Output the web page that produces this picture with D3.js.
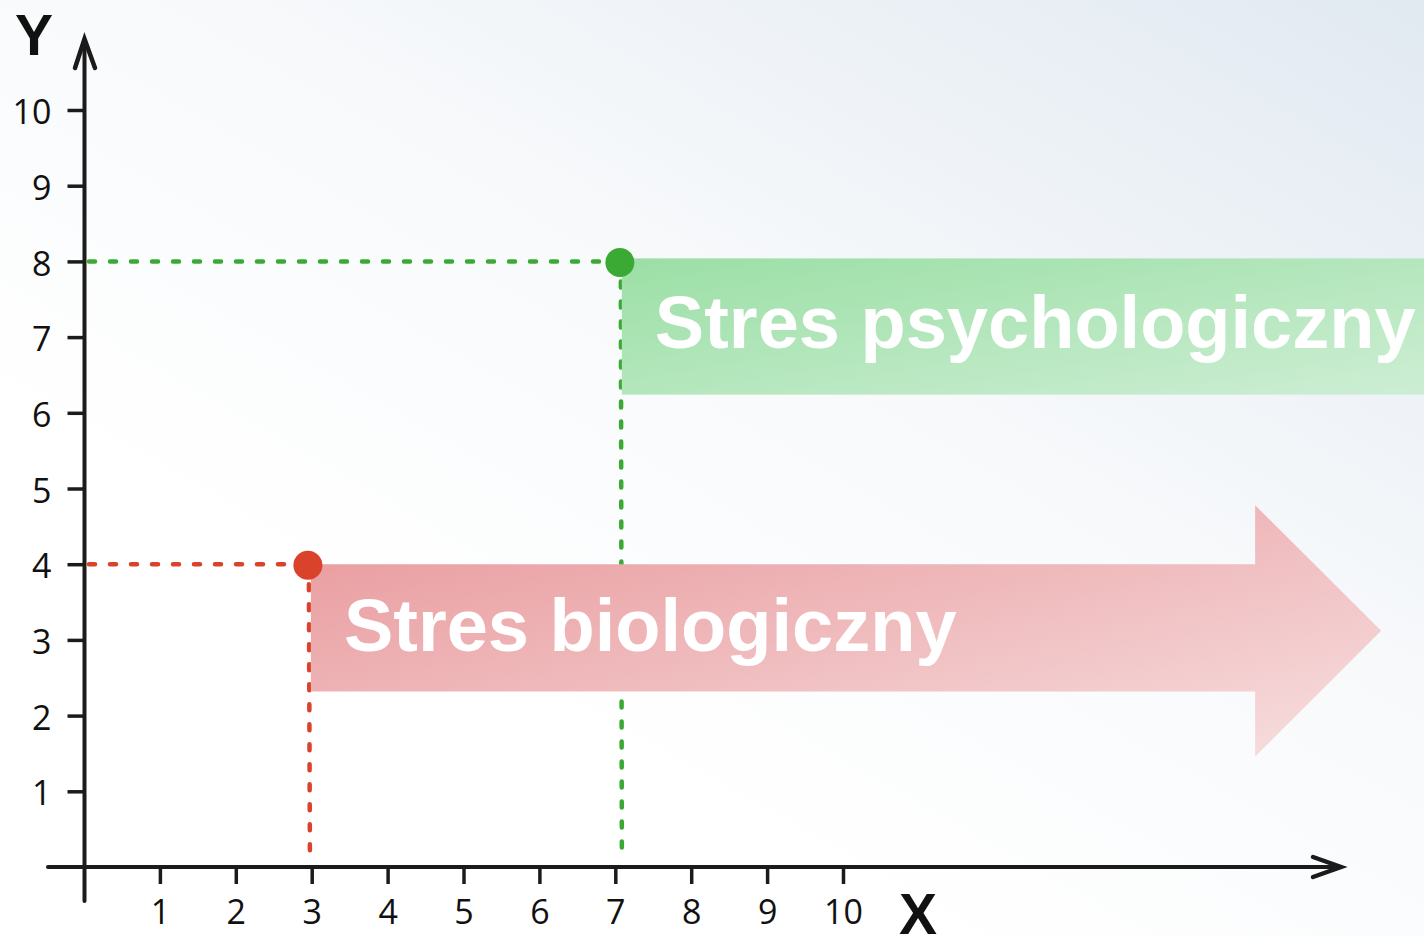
<!DOCTYPE html>
<html>
<head>
<meta charset="utf-8">
<script src="https://cdn.jsdelivr.net/npm/d3@7"></script>
<style>
  html, body { margin: 0; padding: 0; background: #fff; }
  svg { display: block; }
</style>
</head>
<body>
<svg id="chart" width="1424" height="936"></svg>
<script>
// ---- data ----
const xTicks = [1, 2, 3, 4, 5, 6, 7, 8, 9, 10];
const yTicks = [1, 2, 3, 4, 5, 6, 7, 8, 9, 10];
const seriesNames = ["Stres biologiczny", "Stres psychologiczny"];
const pointX = [2.95, 7.06];
const pointY = [4, 8];
// band extents (data units)
const bandBottom = [2.32, 6.24];
const bandEnd = [15.43, 17.7];
const arrowTip = [17.09, null];
const arrowHeadTop = [4.78, null];
const arrowHeadBottom = [1.46, null];
const colors = ["#d9432b", "#3aaa35"];

// ---- setup ----
const W = 1424, H = 936;
const svg = d3.select("#chart");
const x = d3.scaleLinear().domain([0, 10]).range([84, 843]);
const y = d3.scaleLinear().domain([0, 10]).range([867, 110]);

const defs = svg.append("defs");
const bg = defs.append("linearGradient").attr("id", "bg")
  .attr("x1", 1).attr("y1", 0).attr("x2", 0.35).attr("y2", 0.75);
bg.append("stop").attr("offset", 0).attr("stop-color", "#e1e9f1");
bg.append("stop").attr("offset", 0.55).attr("stop-color", "#f7f9fb");
bg.append("stop").attr("offset", 1).attr("stop-color", "#ffffff");

const gRed = defs.append("linearGradient").attr("id", "gRed")
  .attr("x1", 0).attr("y1", 0).attr("x2", 1).attr("y2", 1);
gRed.append("stop").attr("offset", 0).attr("stop-color", "#e8979a");
gRed.append("stop").attr("offset", 1).attr("stop-color", "#f7dfe0");

const gGreen = defs.append("linearGradient").attr("id", "gGreen")
  .attr("x1", 0).attr("y1", 0).attr("x2", 1).attr("y2", 1);
gGreen.append("stop").attr("offset", 0).attr("stop-color", "#9bdfa5");
gGreen.append("stop").attr("offset", 1).attr("stop-color", "#cdeed4");

svg.append("rect").attr("width", W).attr("height", H).attr("fill", "url(#bg)");

// ---- dashed guides (behind the bands) ----
const guides = svg.append("g");
pointX.forEach((px, i) => {
  guides.append("line")
    .attr("x1", x(0) + 5).attr("x2", x(px)).attr("y1", y(pointY[i])).attr("y2", y(pointY[i]))
    .attr("stroke", colors[i]).attr("stroke-width", 4.5).attr("stroke-linecap", "round")
    .attr("stroke-dasharray", "6 15");
  guides.append("line")
    .attr("x1", x(px) + 1).attr("x2", x(px) + 2).attr("y1", y(pointY[i]) + 20).attr("y2", y(0) - 12)
    .attr("stroke", colors[i]).attr("stroke-width", 4.5).attr("stroke-linecap", "round")
    .attr("stroke-dasharray", "6 14");
});

// ---- bands ----
// red arrow
{
  const i = 0;
  const x0 = x(pointX[i]) + 3, yt = y(pointY[i]), yb = y(bandBottom[i]);
  const xe = x(bandEnd[i]), xt = x(arrowTip[i]);
  const ht = y(arrowHeadTop[i]), hb = y(arrowHeadBottom[i]);
  const path = d3.path();
  path.moveTo(x0, yt); path.lineTo(xe, yt); path.lineTo(xe, ht);
  path.lineTo(xt, (ht + hb) / 2); path.lineTo(xe, hb); path.lineTo(xe, yb);
  path.lineTo(x0, yb); path.closePath();
  svg.append("path").attr("d", path.toString()).attr("fill", "url(#gRed)");
}
// green band
{
  const i = 1;
  const x0 = x(pointX[i]) + 2, yt = y(pointY[i]) - 3, yb = y(bandBottom[i]);
  svg.append("rect").attr("x", x0).attr("y", yt)
    .attr("width", x(bandEnd[i]) - x0).attr("height", yb - yt)
    .attr("fill", "url(#gGreen)");
}

// ---- band labels ----
const textOffsets = [36, 35];
seriesNames.forEach((name, i) => {
  svg.append("text")
    .attr("x", x(pointX[i]) + textOffsets[i])
    .attr("y", i === 0 ? 651 : 348)
    .attr("font-family", "'Liberation Sans', Arial, sans-serif")
    .attr("font-weight", "bold").attr("font-size", 74)
    .attr("fill", "#ffffff").text(name);
});

// ---- points ----
svg.append("g").selectAll("circle").data(pointX).join("circle")
  .attr("cx", d => x(d)).attr("cy", (d, i) => y(pointY[i]) + 1)
  .attr("r", 14.5).attr("fill", (d, i) => colors[i]);

// ---- axes ----
const axisColor = "#1b1b1b";
const ax = svg.append("g");
const ax0 = x(0) + 0.5;
// x axis line + arrow
ax.append("line").attr("x1", 48).attr("x2", 1340).attr("y1", y(0)).attr("y2", y(0))
  .attr("stroke", axisColor).attr("stroke-width", 4).attr("stroke-linecap", "round");
ax.append("path").attr("d", `M1313,857 L1341,${y(0)} L1313,877`)
  .attr("fill", "none").attr("stroke", axisColor).attr("stroke-width", 4.5)
  .attr("stroke-linecap", "round").attr("stroke-linejoin", "miter");
// y axis line + arrow
ax.append("line").attr("x1", ax0).attr("x2", ax0).attr("y1", 901).attr("y2", 40)
  .attr("stroke", axisColor).attr("stroke-width", 4).attr("stroke-linecap", "round");
ax.append("path").attr("d", `M75,68 L${ax0},39 L95,68`)
  .attr("fill", "none").attr("stroke", axisColor).attr("stroke-width", 4.5)
  .attr("stroke-linecap", "round").attr("stroke-linejoin", "miter");

const fontTicks = "'Open Sans', 'Noto Sans', sans-serif";
const xAxis = svg.append("g").attr("transform", `translate(0,${y(0)})`)
  .call(d3.axisBottom(x).tickValues(xTicks).tickSize(17).tickPadding(16).tickFormat(d3.format("d")));
const yAxis = svg.append("g").attr("transform", `translate(${ax0},0)`)
  .call(d3.axisLeft(y).tickValues(yTicks).tickSize(17).tickPadding(16).tickFormat(d3.format("d")));
[xAxis, yAxis].forEach(g => {
  g.select(".domain").remove();
  g.selectAll(".tick line").attr("stroke", axisColor).attr("stroke-width", 3.5);
  g.selectAll(".tick text").attr("fill", "#111").attr("font-size", 34)
    .attr("font-family", fontTicks);
});
yAxis.selectAll(".tick text").attr("dy", "0.4em");

// axis titles
svg.append("text").attr("x", 34).attr("y", 55).attr("text-anchor", "middle")
  .attr("font-family", "'Liberation Sans', Arial, sans-serif").attr("font-weight", "bold")
  .attr("font-size", 57).attr("fill", "#111").text("Y");
svg.append("text").attr("x", 918).attr("y", 934).attr("text-anchor", "middle")
  .attr("font-family", "'Liberation Sans', Arial, sans-serif").attr("font-weight", "bold")
  .attr("font-size", 57).attr("fill", "#111").text("X");
</script>
</body>
</html>
